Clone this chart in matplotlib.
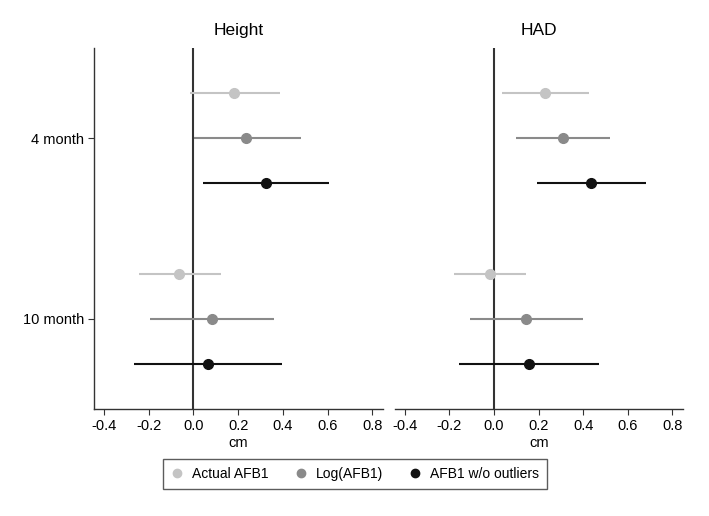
import matplotlib
matplotlib.use("Agg")
import matplotlib.pyplot as plt
from matplotlib.lines import Line2D

plt.rcParams['font.family'] = ['Liberation Sans', 'DejaVu Sans']

panels = ["Height", "HAD"]
categories = ["4 month", "10 month"]
series = ["Actual AFB1", "Log(AFB1)", "AFB1 w/o outliers"]
colors = ["#c4c4c4", "#8a8a8a", "#111111"]

# estimates [series][category]
height_est = [[0.182, -0.063], [0.237, 0.085], [0.323, 0.065]]
height_lo = [[-0.017, -0.245], [0.001, -0.194], [0.045, -0.264]]
height_hi = [[0.385, 0.122], [0.479, 0.362], [0.604, 0.396]]

had_est = [[0.231, -0.018], [0.308, 0.146], [0.437, 0.158]]
had_lo = [[0.037, -0.178], [0.098, -0.105], [0.192, -0.157]]
had_hi = [[0.428, 0.146], [0.520, 0.398], [0.683, 0.472]]

xticks = [-0.4, -0.2, 0.0, 0.2, 0.4, 0.6, 0.8]
xtick_labels = ["-0.4", "-0.2", "0.0", "0.2", "0.4", "0.6", "0.8"]
offsets = [-0.25, 0.0, 0.25]

fig = plt.figure(figsize=(7.09, 5.16), dpi=100)
ax1 = fig.add_axes([94.3/709, 1-409/516, (382.7-94.3)/709, (409-48)/516])
ax2 = fig.add_axes([395/709, 1-409/516, (682.7-395)/709, (409-48)/516])

data = [(height_est, height_lo, height_hi), (had_est, had_lo, had_hi)]
for k, (ax, (est, lo, hi)) in enumerate(zip([ax1, ax2], data)):
    ax.axvline(0, color="#333333", lw=1.5, zorder=1)
    for s in range(3):
        for c in range(2):
            y = c + 1 + offsets[s]
            ax.plot([lo[s][c], hi[s][c]], [y, y], color=colors[s], lw=1.5,
                    solid_capstyle='butt', zorder=2)
            ax.plot(est[s][c], y, 'o', color=colors[s], ms=7, zorder=3)
    ax.set_ylim(2.5, 0.5)
    ax.set_xlim(-0.443, 0.846)
    ax.set_xticks(xticks)
    ax.set_xticklabels(xtick_labels, fontsize=10.5)
    ax.set_xlabel("cm", fontsize=10.5, labelpad=2)
    ax.set_title(panels[k], fontsize=12.5, pad=9)
    ax.spines['top'].set_visible(False)
    ax.spines['right'].set_visible(False)
    ax.tick_params(axis='x', length=4, color="#333333")
    for sp in ['bottom', 'left']:
        ax.spines[sp].set_color("#333333")
        ax.spines[sp].set_linewidth(1.0)

ax1.set_yticks([1, 2])
ax1.set_yticklabels(categories, fontsize=10.5)
ax1.tick_params(axis='y', length=4, color="#333333")
ax2.spines['left'].set_visible(False)
ax2.set_yticks([])

handles = [Line2D([], [], marker='o', ls='none', color=colors[s], ms=6) for s in range(3)]
leg = fig.legend(handles, series, loc='center', bbox_to_anchor=(354.5/709, 1-474/516),
                 ncol=3, frameon=True, fancybox=False, fontsize=10,
                 handletextpad=0.55, columnspacing=1.85, borderpad=0.55, handlelength=1.0)
leg.get_frame().set_edgecolor("#333333")
leg.get_frame().set_linewidth(1.0)

fig.savefig("out.png", dpi=100)
